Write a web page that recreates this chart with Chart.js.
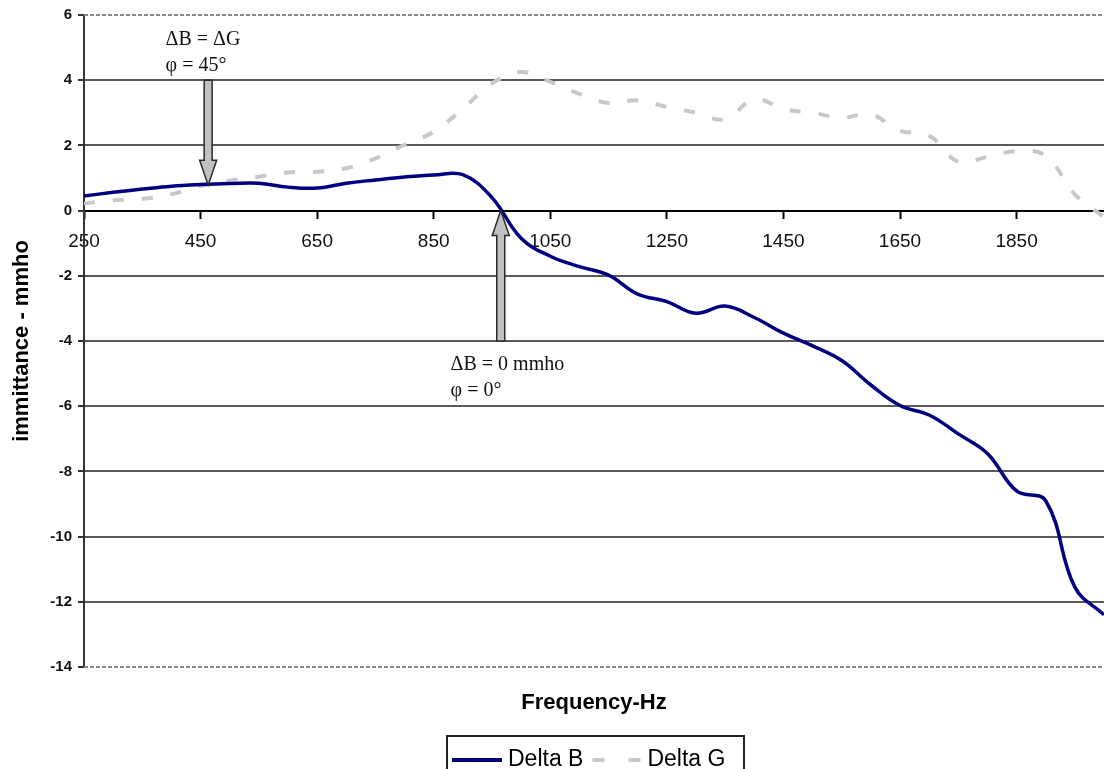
<!DOCTYPE html>
<html>
<head>
<meta charset="utf-8">
<script src="https://cdn.jsdelivr.net/npm/chart.js@4.4.0/dist/chart.umd.min.js"></script>
<style>
    html, body { margin: 0; padding: 0; background: #fff; }
    canvas { display: block; }
</style>
</head>
<body>
<canvas id="chart" width="1104" height="769"></canvas>
<script>
// 頻率點 (Hz)
const freq = [250, 300, 350, 400, 450, 500, 550, 600, 650, 700, 750, 800, 850, 900, 950, 1000,
    1050, 1100, 1150, 1200, 1250, 1300, 1350, 1400, 1450, 1500, 1550, 1600, 1650, 1700,
    1750, 1800, 1850, 1900, 1950, 2000];

// Delta B (mmho)
const deltaB = [0.45, 0.56, 0.66, 0.75, 0.80, 0.83, 0.84, 0.72, 0.69, 0.84, 0.94, 1.03, 1.09, 1.10, 0.40, -0.85,
    -1.40, -1.72, -1.98, -2.56, -2.79, -3.15, -2.93, -3.28, -3.76, -4.15, -4.60, -5.35, -5.98, -6.27,
    -6.85, -7.45, -8.60, -8.90, -11.55, -12.40];

// Delta G (mmho)
const deltaG = [0.22, 0.32, 0.36, 0.50, 0.76, 0.92, 1.04, 1.17, 1.19, 1.30, 1.60, 2.02, 2.42, 3.12, 3.90, 4.25,
    3.95, 3.58, 3.30, 3.38, 3.18, 3.00, 2.80, 3.42, 3.12, 3.00, 2.85, 2.95, 2.45, 2.30,
    1.50, 1.65, 1.82, 1.68, 0.50, -0.20];

const seriesNames = ['Delta B', 'Delta G'];
const xTickValues = [250, 450, 650, 850, 1050, 1250, 1450, 1650, 1850];
const yMin = -14;
const yMax = 6;

// 註記箭頭 (資料座標)
const arrows = [
    { x: 463, from: 4, to: 0.78 },
    { x: 965, from: -4, to: 0 }
];
const notes = [
    { x: 390, y: 5.23, lines: ['ΔB = ΔG', 'φ = 45°'] },
    { x: 879, y: -4.74, lines: ['ΔB = 0 mmho', 'φ = 0°'] }
];

const colorB = '#000080';
const colorG = '#c8c8c8';
const dashG = [11, 18];

function drawArrow(ctx, cx, tipY, tailY) {
    const dir = tipY > tailY ? 1 : -1;
    const headLen = 25;
    const headBase = tipY - dir * headLen;
    ctx.beginPath();
    ctx.moveTo(cx - 4, tailY);
    ctx.lineTo(cx - 4, headBase);
    ctx.lineTo(cx - 8.5, headBase);
    ctx.lineTo(cx, tipY);
    ctx.lineTo(cx + 8.5, headBase);
    ctx.lineTo(cx + 4, headBase);
    ctx.lineTo(cx + 4, tailY);
    ctx.closePath();
    ctx.fillStyle = '#c0c0c0';
    ctx.fill();
    ctx.lineWidth = 1.5;
    ctx.strokeStyle = '#2a2a2a';
    ctx.stroke();
}

const decorPlugin = {
    id: 'decor',
    beforeDatasetsDraw(chart) {
        // 繪圖區上下虛線邊框
        const { ctx, chartArea: a } = chart;
        ctx.save();
        ctx.setLineDash([4, 2]);
        ctx.strokeStyle = '#888';
        ctx.lineWidth = 2;
        ctx.beginPath();
        ctx.moveTo(a.left, a.top);
        ctx.lineTo(a.right, a.top);
        ctx.moveTo(a.left, a.bottom);
        ctx.lineTo(a.right, a.bottom);
        ctx.stroke();
        ctx.restore();
    },
    afterDatasetsDraw(chart) {
        const { ctx } = chart;
        const xs = chart.scales.x;
        const ys = chart.scales.y;
        ctx.save();
        arrows.forEach(ar => {
            drawArrow(ctx, xs.getPixelForValue(ar.x), ys.getPixelForValue(ar.to), ys.getPixelForValue(ar.from));
        });
        ctx.font = '20px "Liberation Serif", "Times New Roman", serif';
        ctx.fillStyle = '#111';
        ctx.textAlign = 'left';
        ctx.textBaseline = 'middle';
        notes.forEach(n => {
            const px = xs.getPixelForValue(n.x);
            const py = ys.getPixelForValue(n.y);
            n.lines.forEach((t, i) => ctx.fillText(t, px, py + i * 26));
        });
        ctx.restore();
    },
    afterDraw(chart) {
        const { ctx, chartArea: a } = chart;
        ctx.save();
        // X 軸標題
        ctx.font = 'bold 22px "Liberation Sans", Arial, sans-serif';
        ctx.fillStyle = '#000';
        ctx.textAlign = 'center';
        ctx.textBaseline = 'middle';
        ctx.fillText('Frequency-Hz', (a.left + a.right) / 2, 703);

        // 圖例
        const boxL = 447, boxT = 736, boxW = 297;
        ctx.lineWidth = 2;
        ctx.strokeStyle = '#222';
        ctx.strokeRect(boxL, boxT, boxW, 60);
        const ly = 760;
        ctx.font = '23px "Liberation Sans", Arial, sans-serif';
        ctx.textAlign = 'left';
        ctx.fillStyle = '#000';

        ctx.lineWidth = 4;
        ctx.strokeStyle = colorB;
        ctx.beginPath();
        ctx.moveTo(boxL + 5, ly);
        ctx.lineTo(boxL + 55, ly);
        ctx.stroke();
        ctx.fillText(seriesNames[0], boxL + 61, ly);

        const gx = boxL + 61 + ctx.measureText(seriesNames[0]).width + 9;
        ctx.setLineDash([12, 24]);
        ctx.strokeStyle = colorG;
        ctx.beginPath();
        ctx.moveTo(gx, ly);
        ctx.lineTo(gx + 48, ly);
        ctx.stroke();
        ctx.setLineDash([]);
        ctx.fillText(seriesNames[1], gx + 55, ly);
        ctx.restore();
    }
};

new Chart(document.getElementById('chart'), {
    type: 'line',
    data: {
        datasets: [
            {
                label: seriesNames[0],
                data: freq.map((f, i) => ({ x: f, y: deltaB[i] })),
                borderColor: colorB,
                borderWidth: 3.5,
                pointRadius: 0,
                tension: 0.4,
                fill: false
            },
            {
                label: seriesNames[1],
                data: freq.map((f, i) => ({ x: f, y: deltaG[i] })),
                borderColor: colorG,
                borderWidth: 4,
                borderDash: dashG,
                borderCapStyle: 'butt',
                pointRadius: 0,
                tension: 0.4,
                fill: false
            }
        ]
    },
    options: {
        responsive: false,
        animation: false,
        layout: { padding: { top: 15, bottom: 102, left: 0, right: 0 } },
        plugins: {
            legend: { display: false },
            tooltip: { enabled: false }
        },
        scales: {
            x: {
                type: 'linear',
                min: 250,
                max: 2000,
                position: { y: 0 },
                afterBuildTicks: s => { s.ticks = xTickValues.map(v => ({ value: v })); },
                grid: { drawOnChartArea: false, drawTicks: true, tickLength: 7, tickColor: '#000', tickWidth: 2 },
                border: { display: true, color: '#000', width: 2 },
                ticks: {
                    autoSkip: false,
                    maxRotation: 0,
                    padding: 13,
                    color: '#111',
                    font: { family: '"Liberation Sans", Arial, sans-serif', size: 19 },
                    callback: v => String(v)
                }
            },
            y: {
                min: yMin,
                max: yMax,
                afterFit: s => { s.width = 84; },
                grid: {
                    color: c => (c.tick.value === yMax || c.tick.value === yMin) ? 'rgba(0,0,0,0)'
                        : (c.tick.value === 0 ? '#000' : '#5a5a5a'),
                    lineWidth: 2,
                    tickLength: 6,
                    tickColor: '#333',
                    tickWidth: 2
                },
                border: { display: true, color: '#333', width: 2 },
                ticks: {
                    stepSize: 2,
                    padding: 6,
                    color: '#111',
                    font: { family: '"Liberation Sans", Arial, sans-serif', size: 15, weight: 'bold' }
                },
                title: {
                    display: true,
                    text: 'immittance - mmho',
                    color: '#000',
                    font: { family: '"Liberation Sans", Arial, sans-serif', size: 22, weight: 'bold' },
                    padding: { top: 9, bottom: 0 }
                }
            }
        }
    },
    plugins: [decorPlugin]
});
</script>
</body>
</html>
